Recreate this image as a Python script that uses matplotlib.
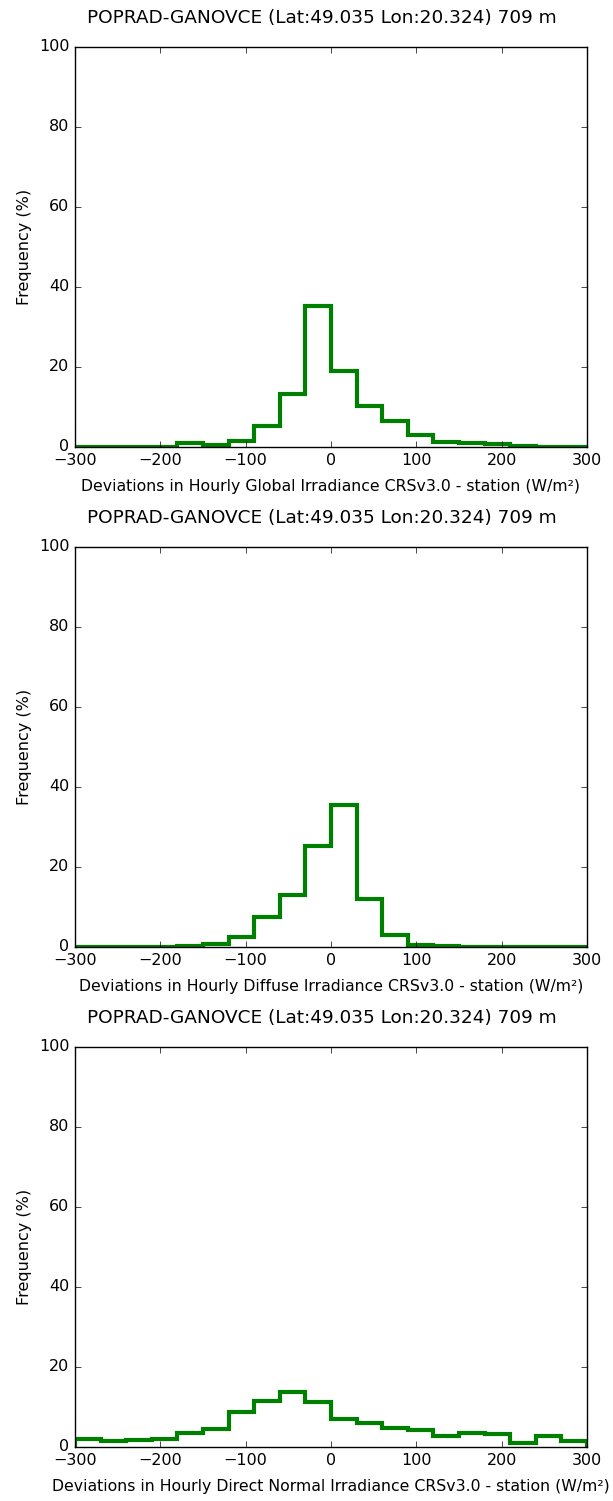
import matplotlib as mpl
import matplotlib.pyplot as plt
import numpy as np

mpl.style.use('classic')
plt.rcParams['font.family'] = ['DejaVu Sans']
plt.rcParams['figure.facecolor'] = 'white'
plt.rcParams['savefig.facecolor'] = 'white'

bin_edges = np.arange(-300, 301, 30)

# percent of hours in each 30 W/m2 bin
global_freq = [0, 0, 0, 0, 1.1, 0.6, 1.6, 5.2, 13.3, 35.3,
               18.9, 10.3, 6.4, 3.0, 1.3, 0.9, 0.7, 0.25, 0.05, 0]
diffuse_freq = [0, 0, 0, 0, 0.25, 0.85, 2.5, 7.4, 12.9, 25.3,
                35.6, 12.1, 3.0, 0.5, 0.25, 0, 0, 0, 0, 0]
direct_freq = [1.9, 1.4, 1.8, 2.1, 3.5, 4.6, 8.7, 11.5, 13.7, 11.2,
               7.1, 6.1, 4.8, 4.3, 2.8, 3.5, 3.2, 1.1, 2.7, 1.4]

title = 'POPRAD-GANOVCE (Lat:49.035 Lon:20.324) 709 m'
xlabels = [
    'Deviations in Hourly Global Irradiance CRSv3.0 - station (W/m\u00b2)',
    'Deviations in Hourly Diffuse Irradiance CRSv3.0 - station (W/m\u00b2)',
    'Deviations in Hourly Direct Normal Irradiance CRSv3.0 - station (W/m\u00b2)',
]

fig = plt.figure(figsize=(6.13, 15.01), dpi=100)
bottoms = [0.7022, 0.3691, 0.036]

for bottom, freq, xlab in zip(bottoms, [global_freq, diffuse_freq, direct_freq], xlabels):
    ax = fig.add_axes([0.1223, bottom, 0.8353, 0.2665])
    ax.stairs(freq, bin_edges, color='green', linewidth=3, baseline=0)
    ax.set_xlim(-300, 300)
    ax.set_ylim(0, 100)
    ax.set_xticks(np.arange(-300, 301, 100))
    ax.set_yticks(np.arange(0, 101, 20))
    ax.tick_params(labelsize=11.5)
    ax.set_xlabel(xlab, fontsize=11.3, labelpad=8)
    ax.set_ylabel('Frequency (%)', fontsize=11.5)
    ax.set_title(title, fontsize=13.3, pad=17, x=0.483)

fig.savefig('out.png', dpi=100)
